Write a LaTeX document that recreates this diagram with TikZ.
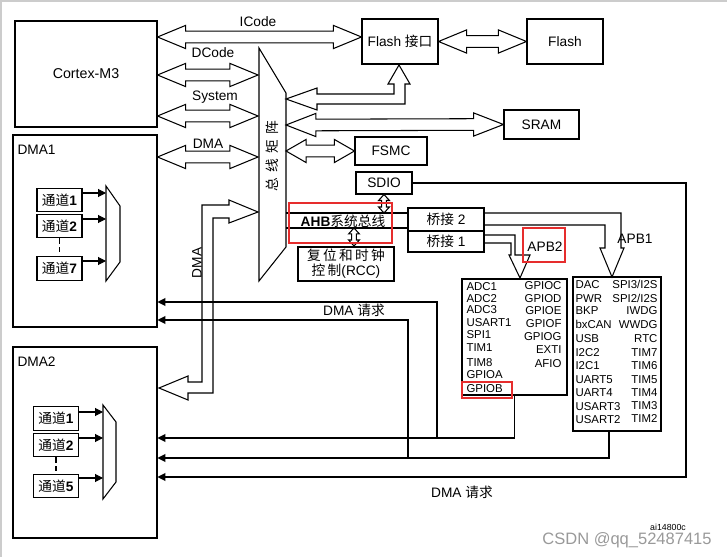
\documentclass[tikz,border=0pt]{standalone}
\usepackage{fontspec}
\setmainfont{Liberation Sans}
\newfontfamily\cjk{Noto Sans CJK SC}
\usepackage{xcolor}
\usepackage{tikz}
\usetikzlibrary{arrows.meta, calc}
\definecolor{annot}{RGB}{230,45,45}
\newcommand\zh[1]{{\cjk #1}}
% hollow bus arrow, heads at both ends (left point, right point)
\newcommand\hbus[3][16pt]{%
  \draw[bus] let \p1=#2, \p2=#3 in
    (\p1) -- (\x1+#1,\y1+6.6pt) -- (\x1+#1,\y1+3.3pt) -- (\x2-#1,\y2+3.3pt)
    -- (\x2-#1,\y2+6.6pt) -- (\p2) -- (\x2-#1,\y2-6.6pt) -- (\x2-#1,\y2-3.3pt)
    -- (\x1+#1,\y1-3.3pt) -- (\x1+#1,\y1-6.6pt) -- cycle;}
% small vertical one (top point, bottom point)
\newcommand\vbus[2]{%
  \draw[bus] let \p1=#1, \p2=#2 in
    (\p1) -- (\x1+3.1pt,\y1-3.4pt) -- (\x1+1.3pt,\y1-3.4pt) -- (\x2+1.3pt,\y2+3.4pt)
    -- (\x2+3.1pt,\y2+3.4pt) -- (\p2) -- (\x2-3.1pt,\y2+3.4pt) -- (\x2-1.3pt,\y2+3.4pt)
    -- (\x1-1.3pt,\y1-3.4pt) -- (\x1-3.1pt,\y1-3.4pt) -- cycle;}
\tikzset{
  blk/.style={draw, inner sep=0pt, align=center},
  chan/.style={blk, minimum width=0.9cm, minimum height=0.47cm},
  bus/.style={draw, fill=white, line join=miter},
  req/.style={-{Triangle[length=4.5pt,width=4.5pt]}},
  lbl/.style={inner sep=0pt},
  per/.style={inner sep=0pt, font=\fontsize{6.5pt}{7pt}\selectfont, text height=4.7pt, text depth=0pt},
  redbox/.style={draw=annot, line width=1.7pt}
}

\begin{document}
\begin{tikzpicture}[x=0.02cm, y=-0.02cm, line width=0.6pt, font=\fontsize{7.8pt}{9.4pt}\selectfont]
  \useasboundingbox (0,0) rectangle (727,557);
  \draw[black!20, line width=1.2pt] (1,557) -- (1,1) -- (727,1);

  % masters
  \node[blk, minimum width=2.84cm, minimum height=2.12cm, font=\fontsize{8.1pt}{9pt}\selectfont] (cm3) at (86,74) {Cortex-M3};
  \node[blk, minimum width=2.88cm, minimum height=3.84cm] (dma1) at (85,231) {};
  \node[blk, minimum width=2.88cm, minimum height=3.82cm] (dma2) at (85,442.5) {};
  \node[lbl, anchor=west] (dma1t) at (17,150) {DMA1};
  \node[lbl, anchor=west] (dma2t) at (17,362) {DMA2};

  \node[chan] (c11) at (59.5,200) {\zh{通道}\textbf{1}};
  \node[chan] (c12) at (59.5,226) {\zh{通道}\textbf{2}};
  \node[chan] (c17) at (59.5,268.5) {\zh{通道}\textbf{7}};
  \node[chan] (c21) at (56,418.5) {\zh{通道}\textbf{1}};
  \node[chan] (c22) at (56,445) {\zh{通道}\textbf{2}};
  \node[chan] (c25) at (56,486) {\zh{通道}\textbf{5}};
  \draw[densely dashed] (c12.south) -- (c17.north);
  \draw[densely dashed] (c22.south) -- (c25.north);

  % arbiters
  \draw (106,186) -- (120,206) -- (120,262) -- (106,281) -- cycle;
  \draw (103,405) -- (116,422) -- (116,482) -- (103,499) -- cycle;
  \coordinate (m11) at (106,193);
  \coordinate (m12) at (106,219);
  \coordinate (m17) at (106,261);
  \coordinate (m21) at (103,412);
  \coordinate (m22) at (103,438);
  \coordinate (m25) at (103,478);
  \foreach \c/\m in {c11/m11, c12/m12, c17/m17, c21/m21, c22/m22, c25/m25}
    \draw[req] (\c.east |- \m) -- (\m);

  % bus matrix
  \coordinate (mxa) at (259,48);
  \coordinate (mxb) at (286,93);
  \coordinate (mxc) at (286,247);
  \coordinate (mxd) at (259,281);
  \draw (mxa) -- (mxb) -- (mxc) -- (mxd) -- cycle;
  \node[lbl, rotate=90] (mxt) at (272,156) {\zh{总\hspace{3pt}线\hspace{3pt}矩\hspace{3pt}阵}};

  % slaves
  \node[blk, minimum width=1.52cm, minimum height=0.9cm] (flashif) at (400,41.5) {Flash \zh{接口}};
  \node[blk, minimum width=1.52cm, minimum height=0.9cm] (flash) at (565,41.5) {Flash};
  \node[blk, minimum width=1.5cm, minimum height=0.58cm] (sram) at (541.5,124.5) {SRAM};
  \node[blk, minimum width=1.44cm, minimum height=0.56cm] (fsmc) at (391,151) {FSMC};
  \node[blk, minimum width=1.12cm, minimum height=0.44cm] (sdio) at (384,183) {SDIO};
  \node[blk, minimum width=1.52cm, minimum height=0.46cm] (br2) at (446,219.5) {\zh{桥接} 2};
  \node[blk, minimum width=1.52cm, minimum height=0.42cm] (br1) at (446,241.5) {\zh{桥接} 1};
  \node[blk, line width=1.2pt, minimum width=1.92cm, minimum height=0.68cm, font=\fontsize{7.8pt}{8.6pt}\selectfont] (rcc) at (346,264)
    {\zh{复\,位\,和\,时\,钟}\\\zh{控\,制}(RCC)};

  % buses to the matrix
  \coordinate (icY) at (300,37);
  \coordinate (mxD) at (258,75);
  \coordinate (mxS) at (258,116);
  \coordinate (mxM) at (258,157);
  \hbus{(cm3.east |- icY)}{(flashif.west |- icY)}
  \hbus{(cm3.east |- mxD)}{(mxD)}
  \hbus{(cm3.east |- mxS)}{(mxS)}
  \hbus{(dma1.east |- mxM)}{(mxM)}
  \node[lbl] (icode) at (258,22) {ICode};
  \node[lbl] (dcode) at (213,53) {DCode};
  \node[lbl] (sys) at (215,97) {System};
  \node[lbl] (dmab) at (208,144) {DMA};

  % matrix to slaves
  \coordinate (mxR2) at (286,125);
  \coordinate (mxR3) at (286,151);
  \hbus{(flashif.east)}{(flash.west)}
  \hbus[17pt]{(mxR2)}{(sram.west)}
  \hbus[11.5pt]{(mxR3)}{(fsmc.west)}
  \draw[bus] (286,99) -- (317,88) -- (317,94) -- (394,94) -- (394,84) -- (388,84) -- (399,65)
    -- (410,84) -- (405,84) -- (405,104) -- (317,104) -- (317,110) -- cycle;

  % DMA bus from DMA2
  \draw[bus] (258,212) -- (229,200) -- (229,205) -- (202,205) -- (202,382) -- (188,382) -- (188,376)
    -- (159,388) -- (188,400) -- (188,393) -- (213,393) -- (213,218) -- (229,218) -- (229,223) -- cycle;
  \node[lbl, rotate=90] (dmav) at (197,263) {DMA};

  % AHB
  \coordinate (ahbT) at (286,213);
  \coordinate (ahbB) at (286,228);
  \draw (ahbT) -- (br2.west |- ahbT);
  \draw (ahbB) -- (br2.west |- ahbB);
  \node[lbl] (ahb) at (343,221) {\textbf{AHB}\zh{系统总线}};
  \vbus{(sdio.south)}{(sdio.south |- ahbT)}
  \vbus{($(rcc.north |- ahbB)+(8,0)$)}{($(rcc.north)+(8,0)$)}

  % APB
  \draw[line join=miter] (484,213) -- (621,213) -- (621,248) -- (624,248) -- (612,277)
    -- (600,248) -- (605,248) -- (605,225) -- (484,225);
  \draw[line join=miter] (484,235) -- (515,235) -- (515,255) -- (530,255) -- (520,278)
    -- (509,255) -- (511,255) -- (511,243) -- (484,243);
  \node[lbl] (apb1) at (635,239) {APB1};
  \node[lbl] (apb2) at (545,247) {APB2};

  \node[blk, minimum width=2.1cm, minimum height=2.32cm] (apb2box) at (514.5,337) {};
  \node[blk, minimum width=1.76cm, minimum height=3.08cm] (apb1box) at (617,354) {};
  \foreach \t/\y [count=\i] in {ADC1/286, ADC2/298, ADC3/309, USART1/322, SPI1/334,
      TIM1/347, TIM8/362, GPIOA/374, GPIOB/388}
    \node[per, anchor=west] (pa\i) at (466,\y) {\t};
  \foreach \t/\y [count=\i] in {GPIOC/285, GPIOD/298, GPIOE/310, GPIOF/323, GPIOG/336,
      EXTI/349, AFIO/363}
    \node[per, anchor=east] (pb\i) at (562,\y) {\t};
  \foreach \t/\y [count=\i] in {DAC/284, PWR/298, BKP/310, bxCAN/324, USB/338, I2C2/352,
      I2C1/365, UART5/379, UART4/392, USART3/406, USART2/419}
    \node[per, anchor=west] (pc\i) at (575,\y) {\t};
  \foreach \t/\y [count=\i] in {{SPI3/I2S}/284, {SPI2/I2S}/298, IWDG/310, WWDG/324, RTC/338,
      TIM7/352, TIM6/365, TIM5/379, TIM4/392, TIM3/405, TIM2/418}
    \node[per, anchor=east] (pd\i) at (658,\y) {\t};

  % DMA requests
  \coordinate (jA) at (437,438);
  \coordinate (kA) at (437,302);
  \coordinate (jB) at (408,458);
  \coordinate (kB) at (408,320);
  \coordinate (jC) at (686,477);
  \draw[req] (apb2box.south) |- (jA) -- (dma2.east |- jA);
  \draw[req] (jA) -- (kA) -- (dma1.east |- kA);
  \draw[req] ($(apb1box.south)+(-8,0)$) |- (jB) -- (dma2.east |- jB);
  \draw[req] (jB) -- (kB) -- (dma1.east |- kB);
  \draw[req] (sdio.east) -| (jC) -- (dma2.east |- jC);
  \node[lbl] (rq1) at (354,310) {DMA \zh{请求}};
  \node[lbl] (rq2) at (462,492) {DMA \zh{请求}};

  % marks
  \draw[redbox] (289,203) rectangle (392,243);
  \draw[redbox] (523,228) rectangle (565,262);
  \draw[redbox] (462,382) rectangle (512,398);

  \node[lbl, text=black!40, font=\fontsize{9.4pt}{10pt}\selectfont] (wm) at (627,540) {CSDN @qq\_52487415};
  \node[lbl, font=\fontsize{5pt}{6pt}\selectfont] (fig) at (668,527) {ai14800c};
\end{tikzpicture}
\end{document}
